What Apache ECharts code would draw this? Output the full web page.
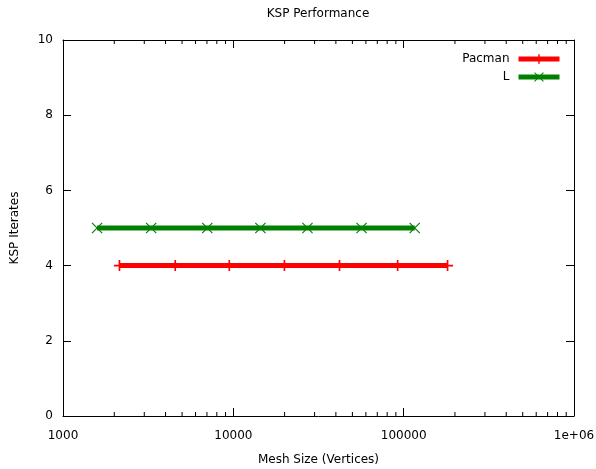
<!DOCTYPE html>
<html>
<head>
<meta charset="utf-8">
<script src="https://cdn.jsdelivr.net/npm/echarts@6/dist/echarts.min.js"></script>
<style>
  html, body { margin: 0; padding: 0; background: #fff; }
  #chart { width: 596px; height: 469px; }
</style>
</head>
<body>
<div id="chart"></div>
<script>
// values
const meshPacman = [2145, 4560, 9470, 19950, 42000, 92200, 181000];
const itersPacman = [4, 4, 4, 4, 4, 4, 4];
const meshL = [1585, 3294, 7030, 14420, 27250, 56600, 116100];
const itersL = [5, 5, 5, 5, 5, 5, 5];
const minorTicks = [2000, 3000, 4000, 5000, 6000, 7000, 8000, 9000,
  20000, 30000, 40000, 50000, 60000, 70000, 80000, 90000,
  200000, 300000, 400000, 500000, 600000, 700000, 800000, 900000];

const FONT = "DejaVu Sans";
const FS = 12;
const plusPath = "path://M-1.5,-10L1.5,-10L1.5,10L-1.5,10ZM-10,-1.5L10,-1.5L10,1.5L-10,1.5Z";
const crossPath = "path://M-10,-8.5L-8.5,-10L10,8.5L8.5,10ZM8.5,-10L10,-8.5L-8.5,10L-10,8.5Z";

const chart = echarts.init(document.getElementById("chart"), null, { renderer: "canvas" });

const xAxisCommon = {
  type: "log",
  logBase: 10,
  min: 1000,
  max: 1000000,
  axisLine: { show: true, onZero: false, lineStyle: { color: "#000", width: 1 } },
  axisTick: { show: true, inside: true, length: 8, lineStyle: { color: "#000" } },
  splitLine: { show: false },
};
const yAxisCommon = {
  type: "value",
  min: 0,
  max: 10,
  interval: 2,
  axisLine: { show: true, onZero: false, lineStyle: { color: "#000", width: 1 } },
  axisTick: { show: true, inside: true, length: 8, lineStyle: { color: "#000" } },
  splitLine: { show: false },
};

function legendFor(name, top) {
  return {
    data: [name],
    right: 34,
    top: top,
    padding: 0,
    align: "right",
    itemWidth: 41,
    itemHeight: 12,
    lineStyle: { width: 5 },
    textStyle: { fontFamily: FONT, fontSize: FS, color: "#000", padding: [0, 4, 0, 0] },
  };
}

const option = {
  animation: false,
  backgroundColor: "#fff",
  textStyle: { fontFamily: FONT },
  grid: { left: 63, right: 22, top: 40, bottom: 53, outerBoundsMode: "none", containLabel: false },
  graphic: [
    {
      type: "text",
      x: 318,
      y: 14,
      style: {
        text: "KSP Performance",
        font: FS + "px " + FONT,
        fill: "#000",
        textAlign: "center",
        textVerticalAlign: "middle",
      },
    },
  ],
  legend: [legendFor("Pacman", 53), legendFor("L", 71)],
  xAxis: [
    Object.assign({}, xAxisCommon, {
      position: "bottom",
      name: "Mesh Size (Vertices)",
      nameLocation: "middle",
      nameGap: 38,
      nameTextStyle: { fontFamily: FONT, fontSize: FS, color: "#000" },
      axisLabel: {
        show: true,
        margin: 14,
        color: "#000",
        fontFamily: FONT,
        fontSize: FS,
        showMinLabel: true,
        showMaxLabel: true,
        formatter: (v) => (v >= 1000000 ? "1e+06" : String(Math.round(v))),
      },
    }),
    Object.assign({}, xAxisCommon, {
      position: "top",
      axisLabel: { show: false },
    }),
  ],
  yAxis: [
    Object.assign({}, yAxisCommon, {
      position: "left",
      name: "KSP Iterates",
      nameLocation: "middle",
      nameGap: 42,
      nameTextStyle: { fontFamily: FONT, fontSize: FS, color: "#000" },
      axisLabel: { show: true, margin: 10, color: "#000", fontFamily: FONT, fontSize: FS },
    }),
    Object.assign({}, yAxisCommon, {
      position: "right",
      axisLabel: { show: false },
    }),
  ],
  series: [
    {
      name: "Pacman",
      type: "line",
      data: meshPacman.map((x, i) => [x, itersPacman[i]]),
      symbol: plusPath,
      symbolSize: 11,
      showAllSymbol: true,
      color: "#ff0000",
      itemStyle: { color: "#ff0000" },
      lineStyle: { color: "#ff0000", width: 5 },
      z: 3,
    },
    {
      name: "L",
      type: "line",
      data: meshL.map((x, i) => [x, itersL[i]]),
      symbol: crossPath,
      symbolSize: 11,
      showAllSymbol: true,
      color: "#008000",
      itemStyle: { color: "#008000" },
      lineStyle: { color: "#008000", width: 5 },
      z: 4,
    },
    {
      name: "minor",
      type: "custom",
      silent: true,
      clip: false,
      data: minorTicks.map((v) => [v, 0]),
      renderItem: (params, api) => {
        const v = api.value(0);
        const b = api.coord([v, 0]);
        const t = api.coord([v, 10]);
        const st = { stroke: "#000", lineWidth: 1 };
        return {
          type: "group",
          children: [
            { type: "line", shape: { x1: b[0], y1: b[1], x2: b[0], y2: b[1] - 4 }, style: st },
            { type: "line", shape: { x1: t[0], y1: t[1], x2: t[0], y2: t[1] + 4 }, style: st },
          ],
        };
      },
    },
  ],
};

chart.setOption(option);
window.addEventListener("resize", chart.resize);
</script>
</body>
</html>
